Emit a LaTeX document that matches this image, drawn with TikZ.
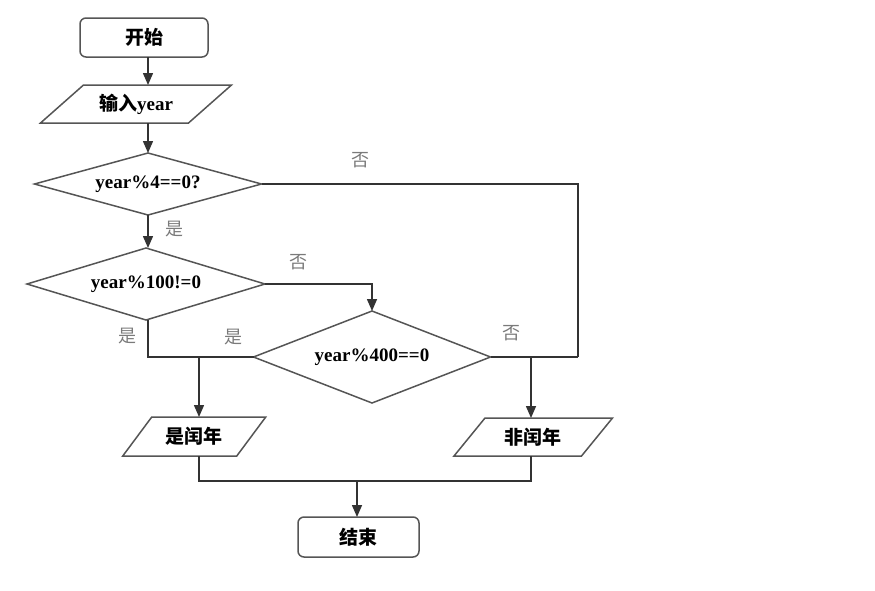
\documentclass[tikz,border=0pt]{standalone}
\usepackage{fontspec}
\setmainfont{Liberation Serif}
\newfontfamily\cjk{Noto Sans CJK SC}
\usetikzlibrary{shapes.geometric,arrows.meta}
\definecolor{linec}{HTML}{333333}
\definecolor{boxc}{HTML}{555555}
\definecolor{labc}{HTML}{7A7A7A}
\tikzset{
  x=1pt, y=-1pt,
  every node/.style={inner sep=0pt, outer sep=0pt},
  txt/.style={font=\fontsize{19}{22}\selectfont\bfseries, text=black},
  term/.style={txt, draw=boxc, line width=1.5pt, rounded corners=6pt, rectangle},
  io/.style={txt, rectangle},
  para/.style={draw=boxc, line width=1.5pt, line join=miter},
  dec/.style={txt, draw=boxc, line width=1.5pt, diamond},
  conn/.style={draw=linec, line width=1.5pt},
  arr/.style={conn, -{Triangle[length=12pt,width=10pt]}},
  lab/.style={font=\cjk\fontsize{18}{20}\selectfont, text=labc},
}
\begin{document}
\begin{tikzpicture}
\useasboundingbox (0,0) rectangle (875,590);
\coordinate (col) at (148,0);
% nodes
\node[term, minimum width=128pt, minimum height=39pt] (s) at (144,37.5) {{\cjk\bfseries 开始}};
\node[io, minimum width=148pt, minimum height=38pt] (in) at (136,104) {{\cjk\bfseries 输入}year};
\draw[para] ([xshift=21.5pt]in.north west) -- ([xshift=21.5pt]in.north east) -- ([xshift=-21.5pt]in.south east) -- ([xshift=-21.5pt]in.south west) -- cycle;
\node[dec, aspect=3.66, minimum width=227pt, minimum height=62pt] (d1) at (148,184) {year\%4==0?};
\node[dec, aspect=3.3, minimum width=238pt, minimum height=72pt] (d2) at (146,284) {year\%100!=0};
\node[dec, aspect=2.6, minimum width=237pt, minimum height=92pt] (d3) at (372,357) {year\%400==0};
\node[io, minimum width=114pt, minimum height=39pt] (o1) at (194.25,436.5) {{\cjk\bfseries 是闰年}};
\draw[para] ([xshift=14.5pt]o1.north west) -- ([xshift=14.5pt]o1.north east) -- ([xshift=-14.5pt]o1.south east) -- ([xshift=-14.5pt]o1.south west) -- cycle;
\node[io, minimum width=127.5pt, minimum height=38pt] (o2) at (533.25,437) {{\cjk\bfseries 非闰年}};
\draw[para] ([xshift=15.5pt]o2.north west) -- ([xshift=15.5pt]o2.north east) -- ([xshift=-15.5pt]o2.south east) -- ([xshift=-15.5pt]o2.south west) -- cycle;
\node[term, minimum width=121pt, minimum height=40pt] (e) at (358.5,537) {{\cjk\bfseries 结束}};
% coordinates
\coordinate (r) at (578,357);
\coordinate (jl) at (199,357);
\coordinate (jr) at (531,357);
\coordinate (bl) at (199,481);
\coordinate (br) at (531,481);
\coordinate (bm) at (357,481);
% connectors
\draw[arr] (s.south -| col) -- (in.north -| col);
\draw[arr] (in.south -| col) -- (d1.north -| col);
\draw[arr] (d1.south -| col) -- (d2.north -| col);
\draw[conn] (d1.east) -| (r);
\draw[conn] (d3.east) -- (r);
\draw[arr] (d2.east) -| (d3.north);
\draw[conn] (d2.south -| col) |- (d3.west);
\draw[arr] (jl) -- (jl |- o1.north);
\draw[arr] (jr) -- (jr |- o2.north);
\draw[conn] (jl |- o1.south) -- (bl) -- (br) -- (jr |- o2.south);
\draw[arr] (bm) -- (bm |- e.north);
% labels
\node[lab] (l1) at (360,160) {否};
\node[lab] (l2) at (174,229) {是};
\node[lab] (l3) at (298,262) {否};
\node[lab] (l4) at (127,336) {是};
\node[lab] (l5) at (233,337) {是};
\node[lab] (l6) at (511,333) {否};
\end{tikzpicture}
\end{document}
